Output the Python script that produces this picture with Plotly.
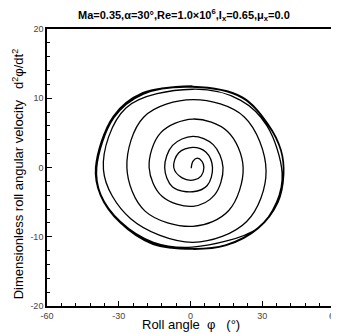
import plotly.graph_objects as go

# Trajectory (roll angle phi [deg], d2phi/dt2 dimensionless)
phi = [0.3, 1.0, 2.8, 4.8, 5.6, 4.5, 1.5, -3.5,
       -7.0, -5.0, 1.0, 6.5, 9.2, 7.0, 1.0, -7.5,
       -10.8, -7.5, 1.0, 9.5, 13.6, 10.0, 1.0, -11.8,
       -17.3, -12.5, 1.0, 15.5, 22.0, 16.0, 1.0, -19.0,
       -26.6, -19.5, 1.0, 22.5, 31.6, 23.5, 1.0, -25.0,
       -36.4, -27.0, 0.8, 21.0, 32.0, 38.3, 36.0, 28.0, 0.8, -15.5, -29.3, -37.5,
       -39.2, -32.0, -19.7, 0.8, 21.4, 32.3, 37.8, 38.8, 36.5, 28.2, 14.5, 0.8, -15.6, -29.3, -37.5,
       -39.6, -32.2, -19.8, 0.8, 21.5, 32.4, 37.9, 39.0, 36.6, 28.3, 14.6, 0.8, -15.7, -29.4, -37.7,
       -39.7, -32.3, -19.9, 0.8]
dphi = [-0.1, 0.9, 1.35, 0.9, 0.0, -1.2, -1.8, -1.5,
        0.0, 2.1, 2.9, 2.2, 0.0, -2.6, -3.5, -2.8,
        0.0, 3.2, 4.5, 3.3, 0.0, -4.0, -5.6, -4.2,
        0.0, 5.0, 7.0, 5.2, 0.0, -6.2, -8.5, -6.3,
        0.0, 7.3, 9.8, 7.3, -0.5, -7.8, -10.8, -7.4,
        -0.3, 8.6, 11.3, 9.7, 6.0, -0.8, -5.0, -8.8, -11.5, -10.8, -7.8, -3.9,
        0.0, 7.2, 10.6, 11.6, 10.1, 6.2, 2.4, -1.0, -4.9, -8.7, -11.2, -11.7, -11.0, -7.9, -3.9,
        0.0, 7.3, 10.7, 11.7, 10.2, 6.3, 2.5, -1.0, -5.0, -8.8, -11.3, -11.8, -11.1, -8.0, -4.0,
        0.0, 7.4, 10.8, 11.8]

x_ticks = [-60, -30, 0, 30, 60]
x_tick_text = ["-60", "-30", "0", "30", "60"]
y_ticks = [-20, -10, 0, 10, 20]
y_tick_text = ["-20", "-10", "0", "10", "20"]

FONT = "Liberation Sans, Arial, sans-serif"

fig = go.Figure()
fig.add_trace(go.Scatter(x=phi, y=dphi, mode="lines",
                         line=dict(color="black", width=1.3, shape="spline", smoothing=1.0),
                         showlegend=False, hoverinfo="skip"))

axis_common = dict(showgrid=False, zeroline=False, showline=True, linecolor="black",
                   linewidth=1.6, mirror=True, ticks="inside", ticklen=5, tickwidth=1.2,
                   tickcolor="black", tickfont=dict(family=FONT, size=9, color="#444"),
                   ticklabeloverflow="allow")

fig.update_xaxes(range=[-60, 60], tickvals=x_ticks, ticktext=x_tick_text,
                 minor=dict(dtick=6, ticks="inside", ticklen=3, tickcolor="black", tickwidth=1),
                 **axis_common)
fig.update_yaxes(range=[-20, 20], tickvals=y_ticks, ticktext=y_tick_text,
                 minor=dict(dtick=2, ticks="inside", ticklen=3, tickcolor="black", tickwidth=1),
                 **axis_common)

fig.add_annotation(text="<b>Ma=0.35,α=30°,Re=1.0×10<sup>6</sup>,I<sub>x</sub>=0.65,μ<sub>x</sub>=0.0</b>",
                   xref="paper", yref="paper", x=0.479, y=1.052, showarrow=False,
                   xanchor="center", yanchor="middle", font=dict(family=FONT, size=11, color="black"))
fig.add_annotation(text="Roll angle  φ   (°)", xref="paper", yref="paper", x=0.5, y=-0.066,
                   showarrow=False, xanchor="center", yanchor="middle",
                   font=dict(family=FONT, size=13, color="black"))
fig.add_annotation(text="Dimensionless roll angular velocity   d<sup>2</sup>φ/dt<sup>2</sup>",
                   xref="paper", yref="paper", x=-0.103, y=0.477, textangle=-90,
                   showarrow=False, xanchor="center", yanchor="middle",
                   font=dict(family=FONT, size=13, color="black"))

# page body has an 8px margin, so the figure is 8px smaller than the window
fig.update_layout(width=331, height=326, margin=dict(l=39, r=0, t=21, b=28),
                  paper_bgcolor="white", plot_bgcolor="white")

fig.write_html("out.html")
